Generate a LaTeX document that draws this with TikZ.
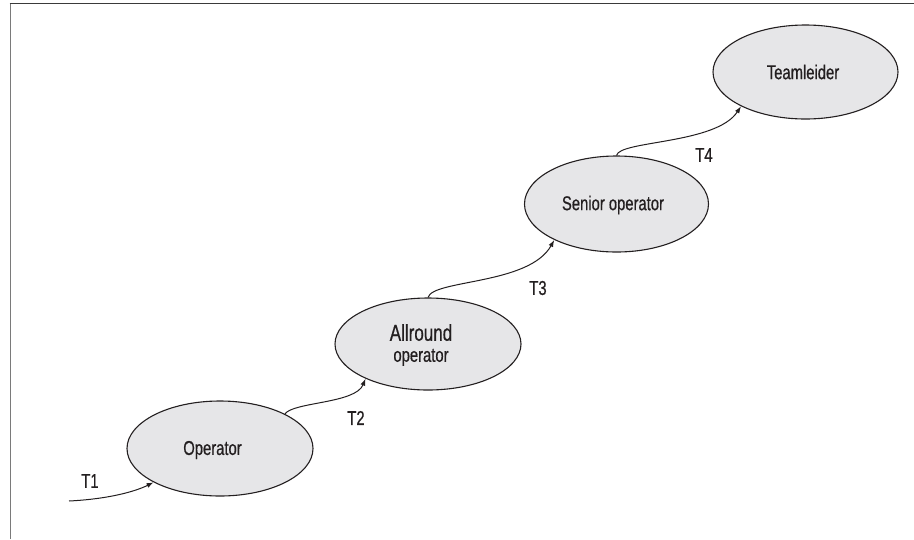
\documentclass[tikz,border=0pt]{standalone}
\usepackage{fontspec}
\setmainfont{Liberation Sans}[FakeStretch=0.74,FakeBold=0.6]
\usetikzlibrary{arrows.meta,shapes.geometric}
\definecolor{inkdark}{HTML}{231F20}
\definecolor{stagefill}{HTML}{E6E6E8}
\definecolor{framegray}{HTML}{7A7A7A}
\definecolor{framedark}{HTML}{3A3A3A}
\tikzset{
  stage/.style={ellipse, draw=inkdark, line width=1.1pt, fill=stagefill, inner sep=0pt},
  stagetext/.style={text=inkdark, font=\fontsize{20}{22}\selectfont, align=center, inner sep=0pt},
  move/.style={draw=inkdark, line width=1pt, -{Latex[length=7pt,width=5pt]}},
  steplabel/.style={text=inkdark, font=\fontsize{20}{22}\selectfont, inner sep=0pt}
}
\begin{document}
\begin{tikzpicture}[x=1pt, y=-1pt]
\useasboundingbox (0,0) rectangle (914,539);
% outer frame: top and left edges only
\draw[framegray, line width=1.6pt] (10.5,539) -- (10.5,3.5);
\draw[framedark, line width=1.6pt] (9.7,3.5) -- (914,3.5);

% career stages
\node[stage, minimum width=186pt, minimum height=95pt] (op) at (220,448.5) {};
\node[stage, minimum width=186pt, minimum height=92pt] (ar) at (428,344) {};
\node[stage, minimum width=184pt, minimum height=96pt] (so) at (616.5,204) {};
\node[stage, minimum width=185pt, minimum height=94pt] (tl) at (805.5,72) {};

\node[stagetext] (op-name) at (212.5,450) {Operator};
\node[stagetext] (ar-name) at (421,345)
  {{\fontsize{23}{26}\selectfont Allround}\\[-1pt]operator};
\node[stagetext] (so-name) at (613,205) {Senior operator};
\node[stagetext] (tl-name) at (803,72) {Teamleider};

% transitions
\coordinate (entry) at (69,501);
\draw[move] (entry) .. controls +(40,-2) and +(-18,9) .. (op.207.6);
\draw[move] (op.28.6) .. controls +(8,-12) and +(-10,25) .. (ar.209);
\draw[move] (ar.90) .. controls +(5,-18) and +(-25,45) .. (so.210);
\draw[move] (so.90) .. controls +(3,-15) and +(-25,38) .. (tl.208);

% transition labels
\node[steplabel] (t1) at (90,481) {T1};
\node[steplabel] (t2) at (356,418) {T2};
\node[steplabel] (t3) at (538,288) {T3};
\node[steplabel] (t4) at (704,155) {T4};
\end{tikzpicture}
\end{document}
